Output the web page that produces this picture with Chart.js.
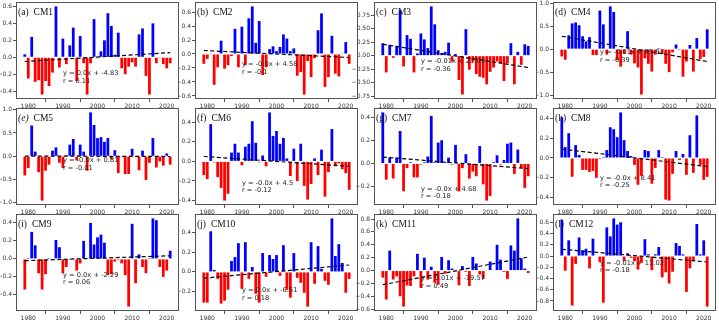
<!DOCTYPE html>
<html><head><meta charset="utf-8">
<script src="https://cdn.jsdelivr.net/npm/chart.js@4/dist/chart.umd.min.js"></script>
<style>
html,body{margin:0;padding:0;background:#fff;width:719px;height:322px;overflow:hidden;position:relative}
canvas{position:absolute}
</style></head><body>
<script>
const years = [1979,1980,1981,1982,1983,1984,1985,1986,1987,1988,1989,1990,1991,1992,1993,1994,1995,1996,1997,1998,1999,2000,2001,2002,2003,2004,2005,2006,2007,2008,2009,2010,2011,2012,2013,2014,2015,2016,2017,2018,2019,2020,2021];
const xTicks = [1980,1990,2000,2010,2020];

const cm1 = [0.035,-0.25,0.24,-0.29,-0.27,-0.44,-0.28,-0.34,-0.18,0.60,-0.12,0.22,-0.08,0.14,0.35,-0.28,0.25,-0.07,-0.44,-0.07,0.45,-0.01,0.07,0.20,0.52,0.37,0.03,0.29,-0.13,-0.20,-0.11,-0.06,-0.11,0.27,0.34,-0.22,-0.44,0.40,-0.07,-0.01,-0.08,-0.13,-0.07];
const cm2 = [-0.14,-0.07,0.01,-0.44,-0.19,0.19,-0.21,-0.16,-0.03,0.36,-0.19,0.39,-0.16,0.51,0.68,0.16,0.47,-0.30,-0.19,0.07,0.11,0.04,0.10,0.28,0.22,0.04,0.08,-0.31,-0.26,-0.58,-0.10,-0.33,-0.06,0.34,0.58,-0.47,-0.33,0.26,-0.28,-0.32,0.01,0.17,-0.14];
const cm3 = [0.23,-0.31,0.20,-0.04,0.18,0.84,-0.20,0.38,0.31,-0.31,0.04,0.41,0.30,0.14,0.91,0.58,0.10,0.04,0.07,0.24,-0.11,0.03,-0.45,-0.72,0.49,-0.26,-0.11,-0.34,-0.39,-0.41,-0.53,-0.30,-0.22,-0.11,-0.14,-0.47,-0.14,0.23,-0.53,0.07,-0.17,0.21,0.18];
const cm4 = [-0.16,-0.23,0.30,0.56,0.58,0.52,0.28,0.17,0.26,-0.13,-0.13,0.84,0.54,-0.12,0.93,0.81,-0.24,-0.38,-0.10,0.39,-0.12,-0.31,-0.40,-0.99,-0.20,-0.32,-0.49,-0.12,0.02,-0.11,-0.32,-0.50,-0.07,0.10,-0.02,-0.60,-0.27,0.09,-0.49,0.24,-0.22,-0.17,0.43];
const cm5 = [-0.41,-0.25,0.66,0.10,-0.34,-0.95,-0.31,-0.18,0.12,0.19,-0.14,-0.25,0.02,0.25,0.37,-0.09,0.25,0.10,-0.31,0.94,0.67,0.39,0.41,0.31,0.39,-0.06,0.13,-0.36,-0.02,-0.38,-0.38,0.16,-0.02,-0.30,0.12,-0.51,-0.14,0.39,-0.24,-0.11,-0.20,0.06,-0.18];
const cm6 = [-0.14,-0.18,0.38,-0.01,-0.16,-0.27,-0.40,-0.33,0.09,0.18,0.09,-0.04,0.15,0.18,0.41,0.19,-0.01,0.06,-0.05,0.50,0.26,0.31,0.18,0.24,0.03,-0.15,0.13,-0.20,0.18,-0.25,-0.39,-0.23,0.03,-0.14,0.12,-0.36,-0.11,0.33,-0.05,-0.02,-0.08,-0.12,-0.29];
const cm7 = [0.44,-0.14,0.05,-0.13,0.05,0.28,-0.24,-0.04,0.01,-0.12,-0.12,-0.01,0.01,0.06,0.41,0.01,0.18,0.20,0.01,0.05,-0.01,0.16,-0.24,-0.04,0.08,-0.13,-0.07,-0.11,0.15,-0.18,-0.32,-0.28,0.01,0.07,-0.01,0.03,0.17,0.18,-0.09,0.12,-0.04,-0.21,-0.11];
const cm8 = [0.41,0.11,0.25,-0.19,0.13,0.03,-0.12,-0.12,-0.14,-0.13,-0.20,-0.01,0.01,0.08,0.31,0.29,0.21,0.46,0.18,0.07,0.02,-0.07,-0.27,-0.18,0.08,0.07,-0.26,-0.10,0.08,0.01,-0.42,-0.43,-0.16,0.07,-0.02,0.04,-0.17,0.23,-0.15,0.43,-0.07,-0.22,-0.19];
const cm9 = [-0.34,0.01,0.30,0.15,-0.16,-0.34,-0.17,0.01,-0.01,0.21,0.13,-0.16,-0.09,-0.01,0.01,-0.13,-0.05,0.20,0.01,0.40,0.16,0.24,0.27,0.18,-0.18,-0.17,-0.03,-0.01,-0.05,-0.18,-0.53,0.39,-0.27,0.05,-0.09,-0.16,0.01,0.45,0.43,-0.09,-0.20,-0.13,0.09];
const cm10 = [-0.31,-0.31,0.41,0.02,-0.07,-0.32,-0.29,-0.18,0.11,0.15,0.29,-0.17,0.30,-0.07,0.05,-0.22,-0.31,0.19,-0.05,0.17,0.13,0.17,-0.04,0.27,-0.18,-0.26,0.19,-0.06,-0.11,-0.21,-0.35,0.30,-0.12,0.26,0.03,-0.09,-0.13,0.54,0.16,0.28,0.09,-0.21,-0.07];
const cm11 = [-0.11,-0.45,0.31,-0.14,-0.09,-0.40,-0.56,-0.23,-0.24,-0.09,0.26,-0.27,0.20,-0.14,0.06,-0.19,-0.22,0.21,-0.05,0.16,0.03,-0.01,-0.23,0.07,-0.02,-0.24,0.21,0.11,-0.06,-0.13,0.01,0.14,0.01,0.40,0.17,-0.02,-0.13,0.39,0.31,0.81,0.19,0.03,-0.04];
const cm12 = [0.65,-0.26,0.28,-0.88,-0.14,0.33,0.10,0.13,-0.22,0.31,0.01,-0.11,-0.83,0.51,0.35,0.67,0.56,0.60,-0.09,0.05,-0.03,-0.09,-0.24,-0.12,0.30,0.03,-0.25,0.03,0.16,-0.38,-0.29,-0.49,-0.28,0.23,0.18,0.03,-0.64,-0.22,-0.09,0.57,0.03,0.28,-0.90];
const series = [cm1,cm2,cm3,cm4,cm5,cm6,cm7,cm8,cm9,cm10,cm11,cm12];

const panelIds = ['(a)','(b)','(c)','(d)','(e)','(f)','(g)','(h)','(i)','(j)','(k)','(l)'];
const panelNames = ['CM1','CM2','CM3','CM4','CM5','CM6','CM7','CM8','CM9','CM10','CM11','CM12'];

const yTickLabels = [
  ['−0.4','−0.2','0.0','0.2','0.4','0.6'],
  ['−0.6','−0.4','−0.2','0.0','0.2','0.4','0.6'],
  ['−0.75','−0.50','−0.25','0.00','0.25','0.50','0.75'],
  ['−1.0','−0.5','0.0','0.5','1.0'],
  ['−1.0','−0.5','0.0','0.5','1.0'],
  ['−0.4','−0.2','0.0','0.2','0.4'],
  ['−0.2','0.0','0.2','0.4'],
  ['−0.4','−0.2','0.0','0.2','0.4'],
  ['−0.4','−0.2','0.0','0.2','0.4'],
  ['−0.2','0.0','0.2','0.4'],
  ['−0.6','−0.4','−0.2','0.0','0.2','0.4','0.6','0.8'],
  ['−0.8','−0.6','−0.4','−0.2','0.0','0.2','0.4','0.6']
];

const trendStart = [-0.05,0.05,0.21,0.28,0.005,0.05,0.055,0.09,-0.02,-0.063,-0.22,0.12];
const trendEnd   = [0.055,-0.05,-0.22,-0.27,-0.005,-0.05,-0.045,-0.087,0.035,0.07,0.21,-0.106];

const eqText = ['y = 0.0x + -4.83','y = -0.0x + 4.58','y = -0.01x + 21.09','y = -0.01x + 25.97','y = -0.0x + 0.81','y = -0.0x + 4.5','y = -0.0x + 4.68','y = -0.0x + 8.41','y = 0.0x + -2.29','y = 0.0x + -6.51','y = 0.01x + -19.57','y = -0.01x + 11.02'];
const rText = ['r = 0.11','r = -0.1','r = -0.36','r = -0.39','r = -0.01','r = -0.12','r = -0.18','r = -0.25','r = 0.06','r = 0.18','r = 0.49','r = -0.18'];
const textX = 1990;
const textY = [-0.19,-0.15,-0.11,-0.07,-0.09,-0.22,-0.22,-0.20,-0.18,-0.19,-0.12,-0.12];

// layout
const colLeft = [16,195,374,553];
const canvasLeft = [0,179,352,537];
const rowTop = [2,108,214];
const plotW = 163, plotH = 97;
const padT = 6, padR = 4, xh = 13;

const framePlugin = {
  id:'frame',
  afterDatasetsDraw(chart){
    const a = chart.chartArea, ctx = chart.ctx;
    ctx.save();
    ctx.strokeStyle = '#555'; ctx.lineWidth = 1;
    ctx.strokeRect(Math.round(a.left)+0.5, Math.round(a.top)+0.5, Math.round(a.right-a.left)-1, Math.round(a.bottom-a.top)-1);
    ctx.restore();
  }
};

function makeChart(i){
  const c = i%4, r = Math.floor(i/4);
  const yw = colLeft[c]-canvasLeft[c];
  const W = colLeft[c]+plotW+padR-canvasLeft[c];
  const H = padT+plotH+xh;
  const cv = document.createElement('canvas');
  cv.width = W; cv.height = H;
  cv.style.left = canvasLeft[c]+'px'; cv.style.top = (rowTop[r]-padT)+'px';
  cv.style.width = W+'px'; cv.style.height = H+'px';
  document.body.appendChild(cv);
  const vals = series[i];
  const tickVals = yTickLabels[i].map(s=>parseFloat(s.replace('−','-')));
  const lo = Math.min(0, ...vals, trendStart[i], trendEnd[i]);
  const hi = Math.max(0, ...vals, trendStart[i], trendEnd[i]);
  const m = (hi-lo)*0.05;
  const xlo = years[0]-0.4, xhi = years[years.length-1]+0.4, xm = (xhi-xlo)*0.05;
  const textPlugin = {
    id:'txt'+i,
    afterDatasetsDraw(chart){
      const ctx = chart.ctx, a = chart.chartArea;
      ctx.save();
      ctx.fillStyle = '#111';
      ctx.textBaseline = 'alphabetic';
      ctx.font = (i===4?'italic ':'')+'9.5px "Liberation Serif"';
      ctx.fillText(panelIds[i], a.left+2, a.top+13);
      const w = ctx.measureText(panelIds[i]).width;
      ctx.font = '9.5px "Liberation Serif"';
      ctx.fillText(panelNames[i], a.left+2+w+5, a.top+13);
      ctx.font = '6.7px "DejaVu Sans"';
      ctx.fillStyle = '#222';
      ctx.textBaseline = 'middle';
      const px = chart.scales.x.getPixelForValue(textX);
      const py = chart.scales.y.getPixelForValue(textY[i]);
      ctx.fillText(eqText[i], px, py);
      ctx.fillText(rText[i], px, py+7.5);
      ctx.restore();
    }
  };
  new Chart(cv, {
    type:'bar',
    data:{datasets:[
      {type:'line', data:[{x:years[0],y:trendStart[i]},{x:years[years.length-1],y:trendEnd[i]}], borderColor:'#000', borderWidth:1.2, borderDash:[4,2.5], pointRadius:0, order:0},
      {type:'bar', data:years.map((y,k)=>({x:y,y:vals[k]})), backgroundColor:vals.map(v=>v>=0?'#0000ff':'#ff0000'), borderWidth:0, barPercentage:0.8, categoryPercentage:1, order:1}
    ]},
    options:{
      responsive:false, animation:false, devicePixelRatio:1,
      layout:{padding:{top:padT,right:padR,left:0,bottom:0}},
      plugins:{legend:{display:false}, tooltip:{enabled:false}},
      scales:{
        x:{type:'linear', min:xlo-xm, max:xhi+xm, offset:false,
           grid:{display:true, drawOnChartArea:false, drawTicks:true, tickLength:3, color:'#555'},
           border:{display:false},
           ticks:{font:{family:'DejaVu Sans', size:6}, color:'#333', padding:1, maxRotation:0, autoSkip:false, callback:v=>String(v)},
           afterBuildTicks:s=>{s.ticks = xTicks.map(v=>({value:v}));},
           afterFit:s=>{s.height = xh;}
        },
        y:{type:'linear', min:lo-m, max:hi+m,
           grid:{display:true, drawOnChartArea:false, drawTicks:true, tickLength:3, color:'#555'},
           border:{display:false},
           ticks:{font:{family:'DejaVu Sans', size:6}, color:'#333', padding:1, autoSkip:false, callback:(v,idx)=>yTickLabels[i][idx]},
           afterBuildTicks:s=>{s.ticks = tickVals.map(v=>({value:v}));},
           afterFit:s=>{s.width = yw;}
        }
      }
    },
    plugins:[framePlugin, textPlugin]
  });
}
for (let i=0;i<12;i++) makeChart(i);
</script>
</body></html>
